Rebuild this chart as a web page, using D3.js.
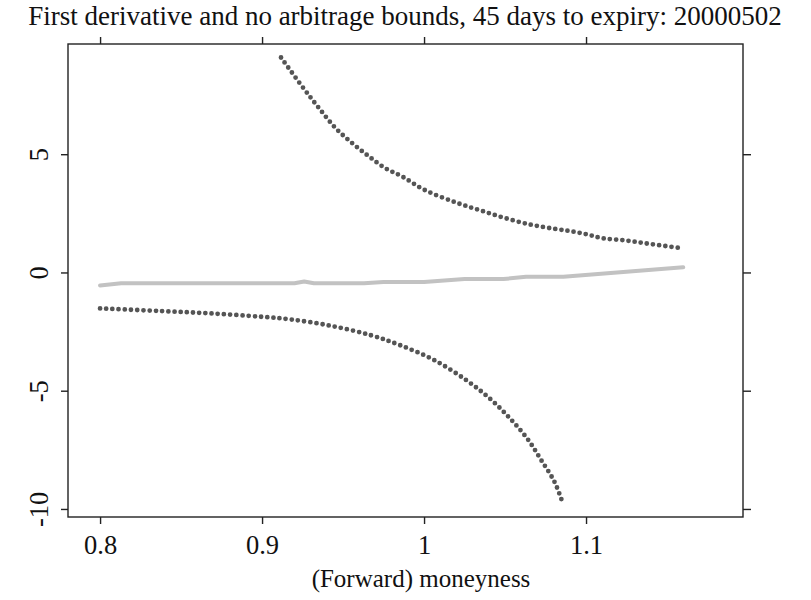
<!DOCTYPE html>
<html>
<head>
<meta charset="utf-8">
<script src="https://cdn.jsdelivr.net/npm/d3@7"></script>
<style>
  html, body { margin: 0; padding: 0; background: #fff; }
  svg { display: block; }
</style>
</head>
<body>
<svg id="chart" width="811" height="600"></svg>
<script>
// Moneyness grid and the first derivative of the call price
const derivX = [0.800, 0.813, 0.920, 0.926, 0.932, 0.963, 0.975, 1.000, 1.025, 1.049, 1.063, 1.086, 1.160];
const derivY = [-0.55, -0.46, -0.46, -0.38, -0.46, -0.46, -0.40, -0.40, -0.28, -0.28, -0.18, -0.18, 0.22];

// Upper no-arbitrage bound
const upperX = [0.9117, 0.9247, 0.9350, 0.9453, 0.9556, 0.9659, 0.9760, 0.9864, 1.000, 1.020, 1.035, 1.050, 1.066, 1.080, 1.090, 1.100, 1.110, 1.125, 1.140, 1.160];
const upperY = [9.09, 7.87, 6.96, 6.11, 5.47, 4.91, 4.41, 4.06, 3.50, 2.95, 2.62, 2.30, 2.02, 1.85, 1.75, 1.62, 1.45, 1.35, 1.20, 1.02];

// Lower no-arbitrage bound
const lowerX = [0.800, 0.837, 0.868, 0.899, 0.917, 0.942, 0.967, 0.985, 1.0064, 1.027, 1.0414, 1.0537, 1.064, 1.0722, 1.0805, 1.0852];
const lowerY = [-1.52, -1.63, -1.73, -1.87, -1.98, -2.25, -2.65, -3.07, -3.71, -4.60, -5.38, -6.22, -7.05, -7.92, -8.85, -9.67];

// Axis ticks
const xTicks = [0.8, 0.9, 1.0, 1.1];
const xTickLabels = ["0.8", "0.9", "1", "1.1"];
const yTicks = [-10, -5, 0, 5];
const yTickLabels = ["-10", "-5", "0", "5"];

const titleText = "First derivative and no arbitrage bounds, 45 days to expiry: 20000502";
const xTitle = "(Forward) moneyness";

const SERIF = '"Liberation Serif"';

const svg = d3.select("#chart");
const box = { left: 68, right: 743, top: 44, bottom: 517 };

const x = d3.scaleLinear().domain([0.7802, 1.1969]).range([box.left, box.right]);
const y = d3.scaleLinear().domain([-10.34, 9.66]).range([box.bottom, box.top]);

const zip = (xs, ys) => xs.map((v, i) => [v, ys[i]]);
const line = d3.line().x(d => x(d[0])).y(d => y(d[1]));
const smooth = d3.line().x(d => x(d[0])).y(d => y(d[1])).curve(d3.curveCatmullRom.alpha(0.5));

// Derivative curve
svg.append("path")
  .attr("d", line(zip(derivX, derivY)))
  .attr("fill", "none")
  .attr("stroke", "#c2c2c2")
  .attr("stroke-width", 4)
  .attr("stroke-linecap", "round")
  .attr("stroke-linejoin", "round");

// Bounds, drawn as dotted curves
[zip(upperX, upperY), zip(lowerX, lowerY)].forEach(pts => {
  svg.append("path")
    .attr("d", smooth(pts))
    .attr("fill", "none")
    .attr("stroke", "#555555")
    .attr("stroke-width", 4.8)
    .attr("stroke-linecap", "round")
    .attr("stroke-dasharray", "0,6.2");
});

// Frame
svg.append("rect")
  .attr("x", box.left).attr("y", box.top)
  .attr("width", box.right - box.left).attr("height", box.bottom - box.top)
  .attr("fill", "none").attr("stroke", "#222").attr("stroke-width", 1.4);

const axisStyle = g => {
  g.select(".domain").remove();
  g.selectAll(".tick line").attr("stroke", "#222").attr("stroke-width", 1.4);
  g.selectAll(".tick text")
    .style("font-family", SERIF)
    .style("font-size", "26.5px")
    .attr("fill", "#111");
};

// Bottom axis
const bottom = svg.append("g")
  .attr("transform", `translate(0,${box.bottom})`)
  .call(d3.axisBottom(x).tickValues(xTicks).tickSize(7)
        .tickFormat((d, i) => xTickLabels[i]))
  .call(axisStyle);
bottom.selectAll(".tick text").attr("dy", null).attr("y", 37);

// Top axis (ticks only)
svg.append("g")
  .attr("transform", `translate(0,${box.top})`)
  .call(d3.axisTop(x).tickValues(xTicks).tickSize(7).tickFormat(""))
  .call(axisStyle);

// Left axis with rotated labels
const left = svg.append("g")
  .attr("transform", `translate(${box.left},0)`)
  .call(d3.axisLeft(y).tickValues(yTicks).tickSize(7).tickFormat((d, i) => yTickLabels[i]))
  .call(axisStyle);
left.selectAll(".tick text")
  .attr("x", null).attr("dy", null)
  .attr("text-anchor", "middle")
  .attr("transform", "translate(-20,0) rotate(-90)")
  .attr("y", 0);

// Right axis (ticks only)
svg.append("g")
  .attr("transform", `translate(${box.right},0)`)
  .call(d3.axisRight(y).tickValues(yTicks).tickSize(8).tickFormat(""))
  .call(axisStyle);

// Titles
const title = svg.append("text")
  .attr("x", 405).attr("y", 25)
  .attr("text-anchor", "middle")
  .style("font-family", SERIF)
  .style("font-size", "27px")
  .attr("fill", "#111")
  .text(titleText);
// keep the title inside the page width
const tw = title.node().getComputedTextLength();
title.style("font-size", Math.min(27, 27 * 798 / tw) + "px");

svg.append("text")
  .attr("x", 421).attr("y", 587)
  .attr("text-anchor", "middle")
  .style("font-family", SERIF)
  .style("font-size", "25px")
  .attr("fill", "#111")
  .text(xTitle);
</script>
</body>
</html>
